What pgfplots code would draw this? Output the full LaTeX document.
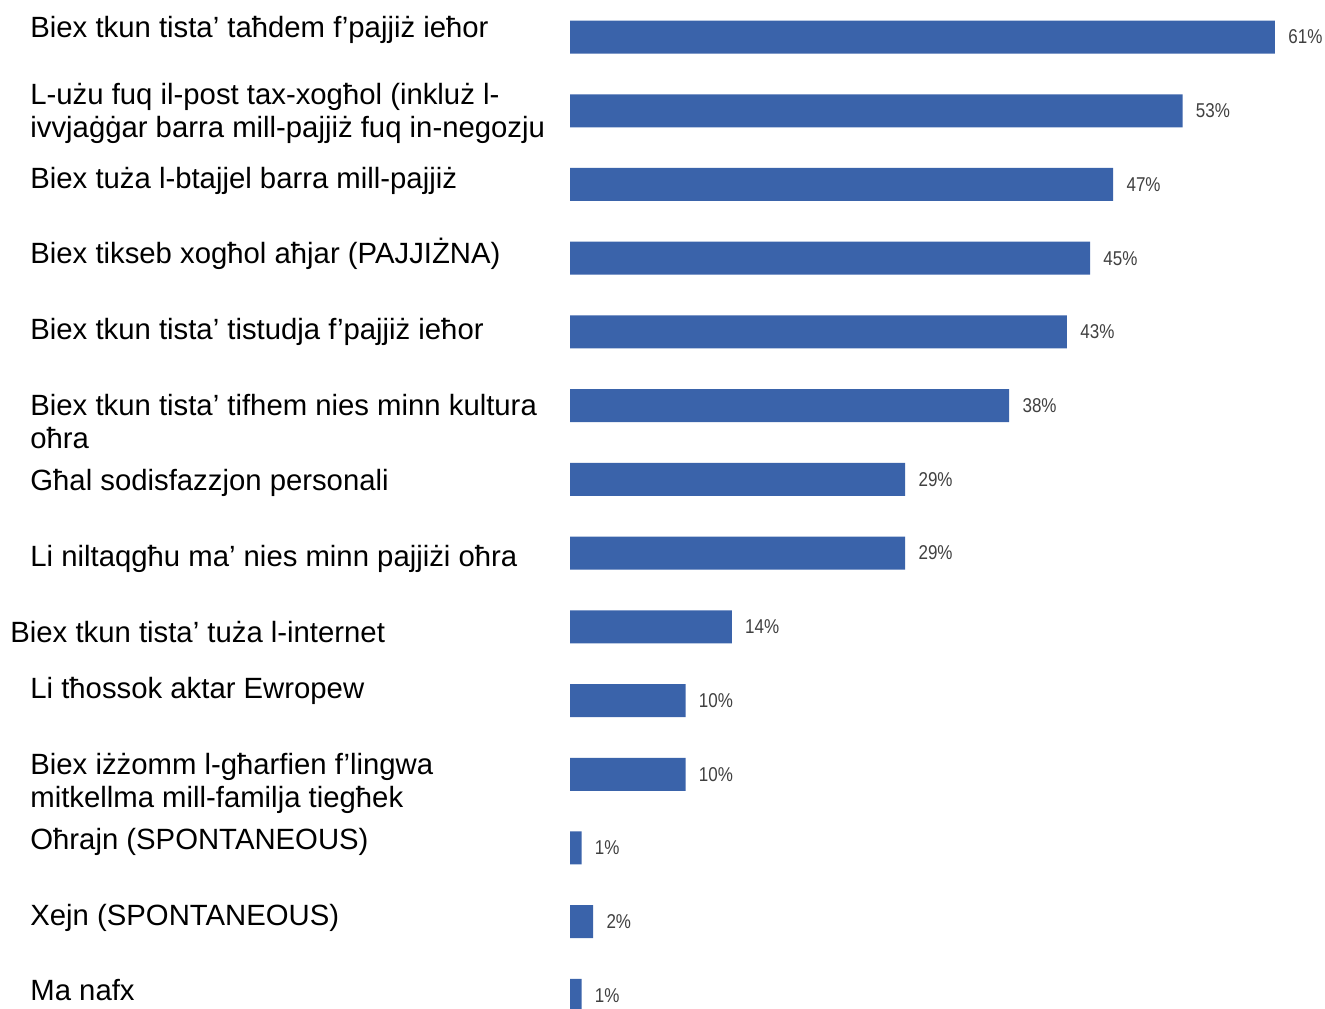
\documentclass[border=0pt]{standalone}
\usepackage{fontspec}
\setmainfont{Liberation Sans}
\newfontfamily\valfont[FakeStretch=0.85]{Liberation Sans}
\usepackage{pgfplots}
\pgfplotsset{compat=1.18}
\definecolor{barblue}{HTML}{3A63AA}
\definecolor{valgray}{HTML}{404040}

% 1 px of the reference = 0.5pt
\begin{document}
\begin{tikzpicture}[lbl/.style={anchor=base west, inner sep=0pt, font=\fontsize{14.65}{16.5}\selectfont}]
\begin{axis}[
    at={(285pt,0pt)}, anchor=north west,
    scale only axis, width=377.5pt, height=504pt,
    xbar, bar width=16.5pt,
    xmin=0, xmax=65.33,
    ymin=0.498, ymax=14.171, y dir=reverse,
    hide axis,
    point meta=x,
    nodes near coords={\valfont\pgfmathprintnumber[assume math mode=true]{\pgfplotspointmeta}\%},
    nodes near coords style={anchor=west, inner sep=0pt, xshift=6.5pt,
      font=\fontsize{10}{12}\selectfont, text=valgray},
]
\addplot[fill=barblue, draw=none] coordinates {
  (61,1) (53,2) (47,3) (45,4) (43,5) (38,6) (29,7)
  (29,8) (14,9) (10,10) (10,11) (1,12) (2,13) (1,14)
};
\end{axis}

% category labels (baselines in reference px / 2)
\node[lbl] at (15pt,-18.5pt) {Biex tkun tista’ taħdem f’pajjiż ieħor};
\node[lbl] at (15pt,-52pt)   {L-użu fuq il-post tax-xogħol (inkluż l-};
\node[lbl] at (15pt,-68.5pt) {ivvjaġġar barra mill-pajjiż fuq in-negozju};
\node[lbl] at (15pt,-94pt)   {Biex tuża l-btajjel barra mill-pajjiż};
\node[lbl] at (15pt,-131.5pt){Biex tikseb xogħol aħjar (PAJJIŻNA)};
\node[lbl] at (15pt,-169.5pt){Biex tkun tista’ tistudja f’pajjiż ieħor};
\node[lbl] at (15pt,-207.5pt){Biex tkun tista’ tifhem nies minn kultura};
\node[lbl] at (15pt,-224pt)  {oħra};
\node[lbl] at (15pt,-245pt)  {Għal sodisfazzjon personali};
\node[lbl] at (15pt,-283pt)  {Li niltaqgħu ma’ nies minn pajjiżi oħra};
\node[lbl] at (5pt,-321pt)   {Biex tkun tista’ tuża l-internet};
\node[lbl] at (15pt,-349pt)  {Li tħossok aktar Ewropew};
\node[lbl] at (15pt,-387pt)  {Biex iżżomm l-għarfien f’lingwa};
\node[lbl] at (15pt,-403.5pt){mitkellma mill-familja tiegħek};
\node[lbl] at (15pt,-424.5pt){Oħrajn (SPONTANEOUS)};
\node[lbl] at (15pt,-462.5pt){Xejn (SPONTANEOUS)};
\node[lbl] at (15pt,-500pt)  {Ma nafx};

\pgfresetboundingbox
\path (0pt,0pt) rectangle (662.5pt,-504pt);
\end{tikzpicture}
\end{document}
